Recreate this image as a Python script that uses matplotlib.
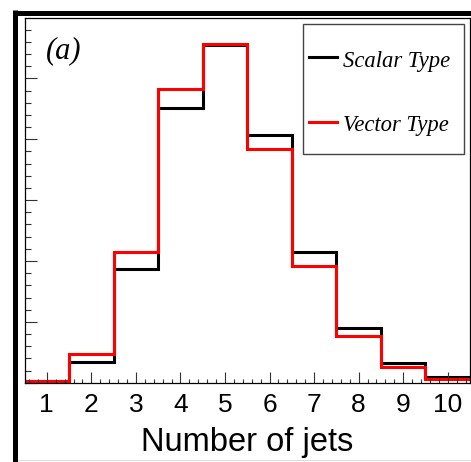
import matplotlib
matplotlib.use("Agg")
import matplotlib.pyplot as plt
from matplotlib.lines import Line2D
from matplotlib.patches import Rectangle
from matplotlib.ticker import MultipleLocator
import numpy as np

# jet multiplicity, bins centred on 1..10
bin_edges = np.arange(0.5, 11.0, 1.0)
scalar_frac = [0.0010, 0.0173, 0.0932, 0.2255, 0.2775, 0.2035, 0.1076, 0.0452, 0.0159, 0.0049]
vector_frac = [0.0018, 0.0233, 0.1076, 0.2411, 0.2779, 0.1918, 0.0961, 0.0386, 0.0131, 0.0030]
series_labels = ["Scalar Type", "Vector Type"]
series_colors = ["black", "#ff0000"]
panel_tag = "(a)"
x_title = "Number of jets"

W, H = 471, 462
fig = plt.figure(figsize=(W / 100, H / 100), dpi=100)


def fx(x):
    return x / W


def fy(y):
    return 1 - y / H


ax = fig.add_axes([fx(24.5), fy(382.7), fx(470) - fx(24.5), fy(18.3) - fy(382.7)])

for vals, col in zip([scalar_frac, vector_frac], series_colors):
    ax.stairs(vals, bin_edges, baseline=None, color=col, linewidth=2.2, clip_on=False)

ax.set_xlim(0.5, 10.5)
ax.set_ylim(0, 0.2994)

ax.xaxis.set_major_locator(MultipleLocator(1))
ax.xaxis.set_minor_locator(MultipleLocator(0.2))
ax.yaxis.set_major_locator(MultipleLocator(0.05))
ax.yaxis.set_minor_locator(MultipleLocator(0.01))
ax.tick_params(axis="both", which="both", direction="in", top=False, right=False, color="#333333", width=0.8)
ax.tick_params(axis="y", which="major", length=8.6, labelleft=False)
ax.tick_params(axis="y", which="minor", length=4.3)
ax.tick_params(axis="x", which="major", length=8, pad=7.5, labelsize=19)
ax.tick_params(axis="x", which="minor", length=3.2)
for lab in ax.get_xticklabels():
    lab.set_fontfamily("Liberation Sans")

for sp in ax.spines.values():
    sp.set_linewidth(0.9)
    sp.set_color("black")

ax.set_xlabel(x_title, fontsize=23.5, fontfamily="Liberation Sans", va="baseline")
ax.xaxis.set_label_coords(0.5, (382.7 - 450.7) / 364.4)

# outer canvas frame (cropped)
fig.add_artist(Line2D([fx(15), fx(15)], [fy(10), fy(462)], lw=3.6, color="black", solid_capstyle="butt"))
fig.add_artist(Line2D([fx(13), fx(471)], [fy(12.5), fy(12.5)], lw=3.6, color="black", solid_capstyle="butt"))
fig.add_artist(Line2D([fx(18), fx(471)], [fy(459.5), fy(459.5)], lw=0.8, color="#dddddd"))

# panel tag
fig.text(fx(46), fy(58.5), panel_tag, fontsize=22, fontfamily="Liberation Serif",
         style="italic", va="baseline", ha="left")

# legend box
fig.add_artist(Rectangle((fx(302.7), fy(154)), fx(464) - fx(302.7), fy(24) - fy(154),
                         transform=fig.transFigure, facecolor="white", edgecolor="#444444", lw=1.0))
for i, (lab, col) in enumerate(zip(series_labels, series_colors)):
    yl = 57 + 65 * i
    fig.add_artist(Line2D([fx(309), fx(337)], [fy(yl), fy(yl)], lw=2.2, color=col))
    fig.text(fx(343), fy(yl + 9.5), lab, fontsize=16.3, fontfamily="Liberation Serif",
             style="italic", va="baseline", ha="left")

fig.savefig("out.png", dpi=100)
